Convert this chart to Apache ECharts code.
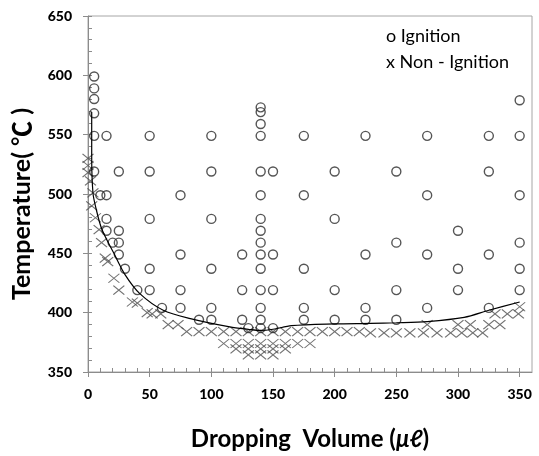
<!DOCTYPE html>
<html><head><meta charset="utf-8">
<script src="https://cdn.jsdelivr.net/npm/echarts@6/dist/echarts.min.js"></script>
<style>html,body{margin:0;padding:0;background:#fff}#c{width:539px;height:456px}</style>
</head><body><div id="c"></div>
<script>
const xMajorTicks = [0, 50, 100, 150, 200, 250, 300, 350];
const xMinorTicks = [0,10,20,30,40,50,60,70,80,90,100,110,120,130,140,150,160,170,180,190,200,210,220,230,240,250,260,270,280,290,300,310,320,330,340,350];
const yMajorTicks = [350, 400, 450, 500, 550, 600, 650];
const yMinorTicks = [350,360,370,380,390,400,410,420,430,440,450,460,470,480,490,500,510,520,530,540,550,560,570,580,590,600,610,620,630,640,650];

// Ignition points (o)
const ignition = [
  [5,599],[5,589],[5,580],[5,568],[5,549],[5,519],
  [10,499],
  [15,549],[15,499],[15,479],[15,469],
  [20,459],
  [25,519],[25,469],[25,459],[25,449],
  [30,437],
  [40,419],
  [50,549],[50,519],[50,479],[50,437],[50,419],
  [60,404],
  [75,499],[75,449],[75,419],[75,404],
  [90,394],
  [100,549],[100,519],[100,479],[100,437],[100,404],[100,394],
  [125,449],[125,419],[125,394],
  [130,387],
  [140,573],[140,569],[140,559],[140,549],[140,519],[140,499],[140,479],[140,469],[140,459],[140,449],[140,437],[140,419],[140,404],[140,394],[140,387],
  [150,519],[150,449],[150,419],[150,387],
  [175,549],[175,499],[175,437],[175,404],[175,394],
  [200,519],[200,479],[200,419],[200,394],
  [225,549],[225,449],[225,404],[225,394],
  [250,519],[250,459],[250,419],[250,394],
  [275,549],[275,499],[275,449],[275,404],
  [300,469],[300,437],[300,419],
  [325,549],[325,519],[325,449],[325,404],
  [350,579],[350,549],[350,499],[350,459],[350,437],[350,419]
];

// Non-ignition points (x)
const nonIgnition = [
  [0,530],[0,524],[0,518],[2,511],[4,501],[3,490],[6,480],[9,470],[11,459],
  [14,446],[16,443],[21,429],[25,419],[36,409],[40,408],[48,400],[52,399],[59,399],
  [65,390],[73,390],
  [80,384],[90,384],[100,384],[110,384],[120,384],[130,384],[140,384],[150,384],[160,384],
  [170,384],[180,384],[190,384],[200,384],[210,384],[220,384],[229,383],[240,383],[250,383],
  [261,383],[272,383],[283,383],[294,383],[303,383],[312,383],[320,383],
  [110,374],[120,374],[130,374],[140,374],[150,374],[160,374],[170,374],[180,374],
  [120,369.5],[130,369.5],[140,369.5],[150,369.5],[160,369.5],
  [130,364.5],[140,364.5],[150,364.5],
  [275,390],[300,390],[310,390],[325,390],[334,390],
  [330,399],[340,399],[349,399],[350,405]
];

// Boundary curve
const boundary = [
  [3,569],[3,531],[4,501],[6,490],[11,471],[21,450],[30,432],[42,416],[61,402],[83,395],
  [115,388],[130,386],[140,385],[150,386],[165,389],[200,390.5],[229,391],[250,391.5],
  [275,392.5],[305,396],[325,402],[350,409]
];

const FONT = 'Lato, "DejaVu Sans", sans-serif';
const CJK = '"Noto Sans CJK SC", sans-serif';
const chart = echarts.init(document.getElementById('c'), null, {renderer: 'canvas'});
const axisLineStyle = {color: '#8c8c8c', width: 1};
chart.setOption({
  animation: false,
  backgroundColor: '#fff',
  grid: {left: 88, right: 7, top: 16, bottom: 82, show: true, borderColor: '#a6a6a6', borderWidth: 1},
  xAxis: [{
    type: 'value', min: 0, max: 360, position: 'bottom',
    axisLine: {show: true, onZero: false, lineStyle: axisLineStyle},
    axisTick: {show: true, inside: true, length: 4, customValues: xMinorTicks, lineStyle: axisLineStyle},
    axisLabel: {show: true, customValues: xMajorTicks, margin: 15, fontFamily: FONT, fontWeight: 900, fontSize: 14, color: '#000'},
    splitLine: {show: false},
    name: '{a|Dropping  Volume (}{b|μℓ}{a|)}',
    nameLocation: 'middle', nameGap: 55,
    nameTextStyle: {rich: {
      a: {fontFamily: FONT, fontWeight: 'bold', fontSize: 24, color: '#000'},
      b: {fontFamily: FONT, fontWeight: 'bold', fontStyle: 'italic', fontSize: 24, color: '#000'}
    }}
  }, {
    type: 'value', min: 0, max: 360, position: 'bottom',
    axisLine: {show: false, onZero: false},
    axisTick: {show: true, inside: false, length: 5, customValues: xMajorTicks, lineStyle: axisLineStyle},
    axisLabel: {show: false}, splitLine: {show: false}
  }],
  yAxis: [{
    type: 'value', min: 350, max: 650, position: 'left',
    axisLine: {show: true, onZero: false, lineStyle: axisLineStyle},
    axisTick: {show: true, inside: true, length: 4, customValues: yMinorTicks, lineStyle: axisLineStyle},
    axisLabel: {show: true, customValues: yMajorTicks, margin: 16, fontFamily: FONT, fontWeight: 900, fontSize: 14, color: '#000'},
    splitLine: {show: false},
    name: '{a|Temperature( }{c|℃}{a| )}',
    nameLocation: 'middle', nameGap: 54, nameRotate: 90,
    nameTextStyle: {padding: [0, 20, 0, 0], rich: {
      a: {fontFamily: FONT, fontWeight: 'bold', fontSize: 25, color: '#000'},
      c: {fontFamily: CJK, fontWeight: 'bold', fontSize: 25, color: '#000'}
    }}
  }, {
    type: 'value', min: 350, max: 650, position: 'left',
    axisLine: {show: false, onZero: false},
    axisTick: {show: true, inside: false, length: 5, customValues: yMajorTicks, lineStyle: axisLineStyle},
    axisLabel: {show: false}, splitLine: {show: false}
  }],
  graphic: [
    {type: 'text', left: 386, top: 27, style: {text: 'o Ignition', fontFamily: FONT, fontSize: 18, fill: '#000'}},
    {type: 'text', left: 386, top: 53, style: {text: 'x Non - Ignition', fontFamily: FONT, fontSize: 18, fill: '#000'}}
  ],
  series: [{
    type: 'scatter', data: nonIgnition, xAxisIndex: 0, yAxisIndex: 0,
    symbol: 'path://M0 0L10 10M10 0L0 10', symbolSize: [11, 9],
    itemStyle: {color: 'none', borderColor: '#4d4d4d', borderWidth: 1.1}
  }, {
    type: 'scatter', data: ignition, xAxisIndex: 0, yAxisIndex: 0,
    symbol: 'circle', symbolSize: 9,
    itemStyle: {color: 'none', borderColor: '#2b2b2b', borderWidth: 1.4}
  }, {
    type: 'line', data: boundary, xAxisIndex: 0, yAxisIndex: 0,
    showSymbol: false, smooth: 0.3,
    lineStyle: {color: '#000', width: 1.2}
  }]
});
</script></body></html>
